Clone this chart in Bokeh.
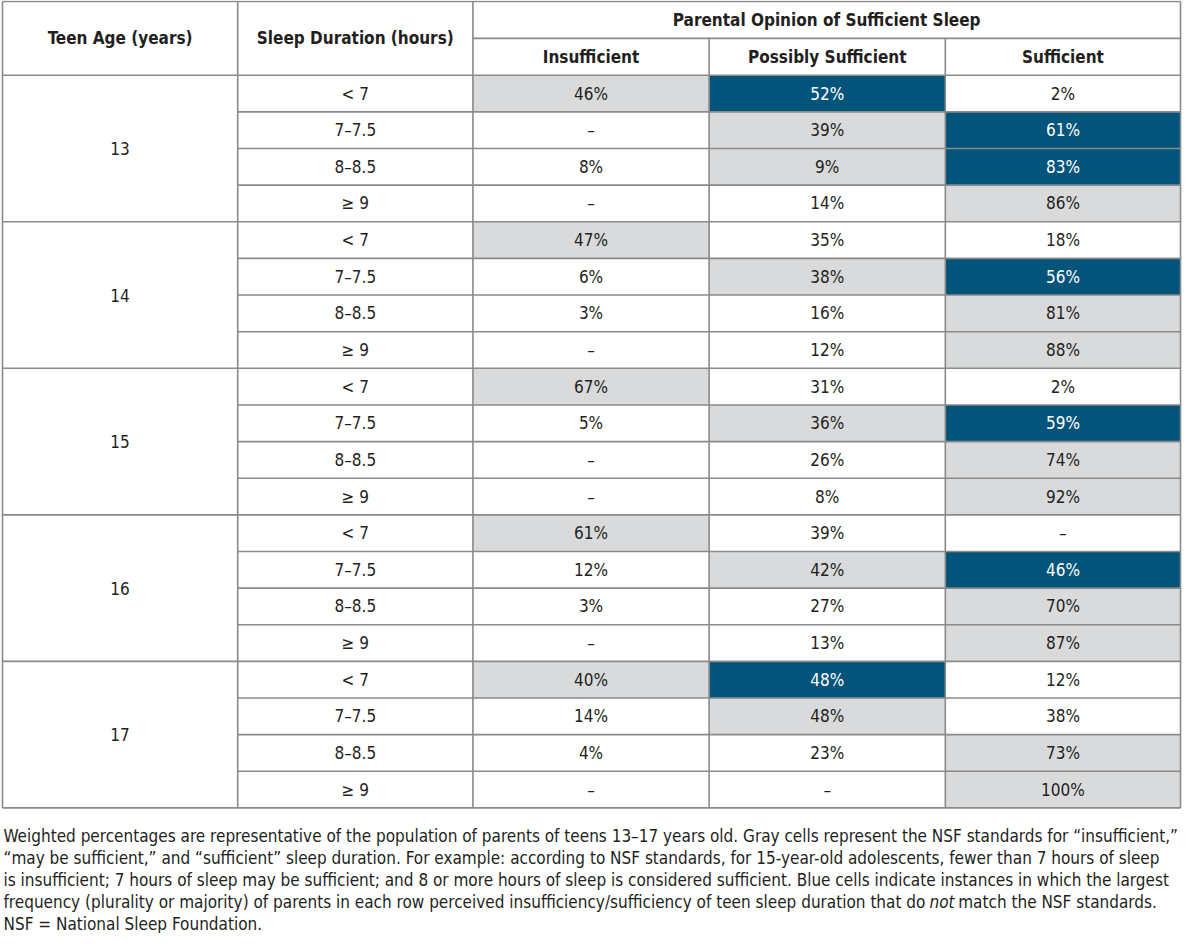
from bokeh.plotting import figure
from bokeh.models import Range1d, ColumnDataSource
from bokeh.embed import file_html
from bokeh.resources import INLINE
from bokeh.core.properties import value

# ---------------- data ----------------
ages = ["13", "14", "15", "16", "17"]
durations = ["< 7", "7–7.5", "8–8.5", "≥ 9"]
header_left = ["Teen Age (years)", "Sleep Duration (hours)"]
group_header = "Parental Opinion of Sufficient Sleep"
opinion_levels = ["Insufficient", "Possibly Sufficient", "Sufficient"]

insufficient = ["46%", "–", "8%", "–",
                "47%", "6%", "3%", "–",
                "67%", "5%", "–", "–",
                "61%", "12%", "3%", "–",
                "40%", "14%", "4%", "–"]
possibly = ["52%", "39%", "9%", "14%",
            "35%", "38%", "16%", "12%",
            "31%", "36%", "26%", "8%",
            "39%", "42%", "27%", "13%",
            "48%", "48%", "23%", "–"]
sufficient = ["2%", "61%", "83%", "86%",
              "18%", "56%", "81%", "88%",
              "2%", "59%", "74%", "92%",
              "–", "46%", "70%", "87%",
              "12%", "38%", "73%", "100%"]

# "nsf" = NSF standard (gray cell), "mismatch" = plurality not matching NSF (blue cell)
ins_status = ["nsf", "", "", "",
              "nsf", "", "", "",
              "nsf", "", "", "",
              "nsf", "", "", "",
              "nsf", "", "", ""]
pos_status = ["mismatch", "nsf", "nsf", "",
              "", "nsf", "", "",
              "", "nsf", "", "",
              "", "nsf", "", "",
              "mismatch", "nsf", "", ""]
suf_status = ["", "mismatch", "mismatch", "nsf",
              "", "mismatch", "nsf", "nsf",
              "", "mismatch", "nsf", "nsf",
              "", "mismatch", "nsf", "nsf",
              "", "", "nsf", "nsf"]

footnote_lines = [
    "Weighted percentages are representative of the population of parents of teens 13–17 years old. Gray cells represent the NSF standards for “insufficient,”",
    "“may be sufficient,” and “sufficient” sleep duration. For example: according to NSF standards, for 15-year-old adolescents, fewer than 7 hours of sleep",
    "is insufficient; 7 hours of sleep may be sufficient; and 8 or more hours of sleep is considered sufficient. Blue cells indicate instances in which the largest",
    "frequency (plurality or majority) of parents in each row perceived insufficiency/sufficiency of teen sleep duration that do",
    "NSF = National Sleep Foundation.",
]
footnote_italic = "not"
footnote_tail = "match the NSF standards."

# ---------------- style / geometry ----------------
FONT = "DejaVu Sans Condensed"
TXT = "#231f20"
GRAY = "#d9dadb"
BLUE = "#02547a"
LINE = "#8a8a8a"
FS = "17px"

col_edges = [1, 238, 475, 713, 951, 1188]
y_top, y_mid, y_head = 0, 37, 74
y_bot = 809
n_rows = len(ages) * len(durations)
rh = (y_bot - y_head) / n_rows

p = figure(width=1184, height=933, output_backend="svg", toolbar_location=None,
           x_range=Range1d(-1, 1192), y_range=Range1d(935, -1),
           min_border=0, outline_line_color=None)
p.axis.visible = False
p.grid.visible = False
p.background_fill_color = "white"
p.border_fill_color = "white"

# ---- cell fills ----
status_color = {"nsf": GRAY, "mismatch": BLUE, "": "white"}
L, R, T, B, C = [], [], [], [], []
for j, statuses in enumerate([ins_status, pos_status, suf_status]):
    for i, s in enumerate(statuses):
        if s:
            L.append(col_edges[2 + j]); R.append(col_edges[3 + j])
            T.append(y_head + i * rh); B.append(y_head + (i + 1) * rh)
            C.append(status_color[s])
p.quad(left=L, right=R, top=T, bottom=B, fill_color=C, line_color=None)

# ---- grid lines ----
xs0, xs1, ys0, ys1 = [], [], [], []
def seg(x0, y0, x1, y1):
    xs0.append(x0); ys0.append(y0); xs1.append(x1); ys1.append(y1)

seg(col_edges[0], y_top, col_edges[-1], y_top)
seg(col_edges[2], y_mid, col_edges[-1], y_mid)
seg(col_edges[0], y_head, col_edges[-1], y_head)
for i in range(1, n_rows):
    y = y_head + i * rh
    x0 = col_edges[0] if i % len(durations) == 0 else col_edges[1]
    seg(x0, y, col_edges[-1], y)
seg(col_edges[0], y_bot, col_edges[-1], y_bot)
for k, x in enumerate(col_edges):
    y0 = y_mid if k in (3, 4) else y_top
    seg(x, y0, x, y_bot)
p.segment(x0=xs0, y0=ys0, x1=xs1, y1=ys1, line_color=LINE, line_width=1.6)

# ---- header text ----
cx = [(col_edges[k] + col_edges[k + 1]) / 2 for k in range(5)]
p.text(x=cx[:2], y=[(y_top + y_head) / 2] * 2, text=header_left,
       text_font=value(FONT), text_font_style="bold", text_font_size=FS,
       text_color=TXT, text_align="center", text_baseline="middle")
p.text(x=[(col_edges[2] + col_edges[-1]) / 2], y=[(y_top + y_mid) / 2], text=[group_header],
       text_font=value(FONT), text_font_style="bold", text_font_size=FS,
       text_color=TXT, text_align="center", text_baseline="middle")
p.text(x=cx[2:], y=[(y_mid + y_head) / 2] * 3, text=opinion_levels,
       text_font=value(FONT), text_font_style="bold", text_font_size=FS,
       text_color=TXT, text_align="center", text_baseline="middle")

# ---- age labels ----
ay = [y_head + (g * len(durations) + len(durations) / 2) * rh for g in range(len(ages))]
p.text(x=[cx[0]] * len(ages), y=ay, text=ages, text_font=value(FONT), text_font_size=FS,
       text_color=TXT, text_align="center", text_baseline="middle")

# ---- duration labels + values ----
ry = [y_head + (i + 0.5) * rh for i in range(n_rows)]
p.text(x=[cx[1]] * n_rows, y=ry, text=durations * len(ages), text_font=value(FONT),
       text_font_size=FS, text_color=TXT, text_align="center", text_baseline="middle")
for j, (vals, statuses) in enumerate([(insufficient, ins_status), (possibly, pos_status),
                                      (sufficient, suf_status)]):
    src = ColumnDataSource(dict(x=[cx[2 + j]] * n_rows, y=ry, t=vals,
                                c=["white" if s == "mismatch" else TXT for s in statuses]))
    p.text(x="x", y="y", text="t", text_color="c", source=src, text_font=value(FONT),
           text_font_size=FS, text_align="center", text_baseline="middle")

# ---- footnote ----
fy = [837.5 + 22.07 * k for k in range(len(footnote_lines))]
p.text(x=[2] * len(footnote_lines), y=fy, text=footnote_lines, text_font=value(FONT),
       text_font_size=FS, text_color=TXT, text_align="left", text_baseline="middle")
p.text(x=[935], y=[fy[3]], text=[footnote_italic], text_font=value(FONT), text_font_style="italic",
       text_font_size=FS, text_color=TXT, text_align="left", text_baseline="middle")
p.text(x=[964], y=[fy[3]], text=[footnote_tail], text_font=value(FONT),
       text_font_size=FS, text_color=TXT, text_align="left", text_baseline="middle")

open("out.html", "w").write(file_html(p, INLINE))
